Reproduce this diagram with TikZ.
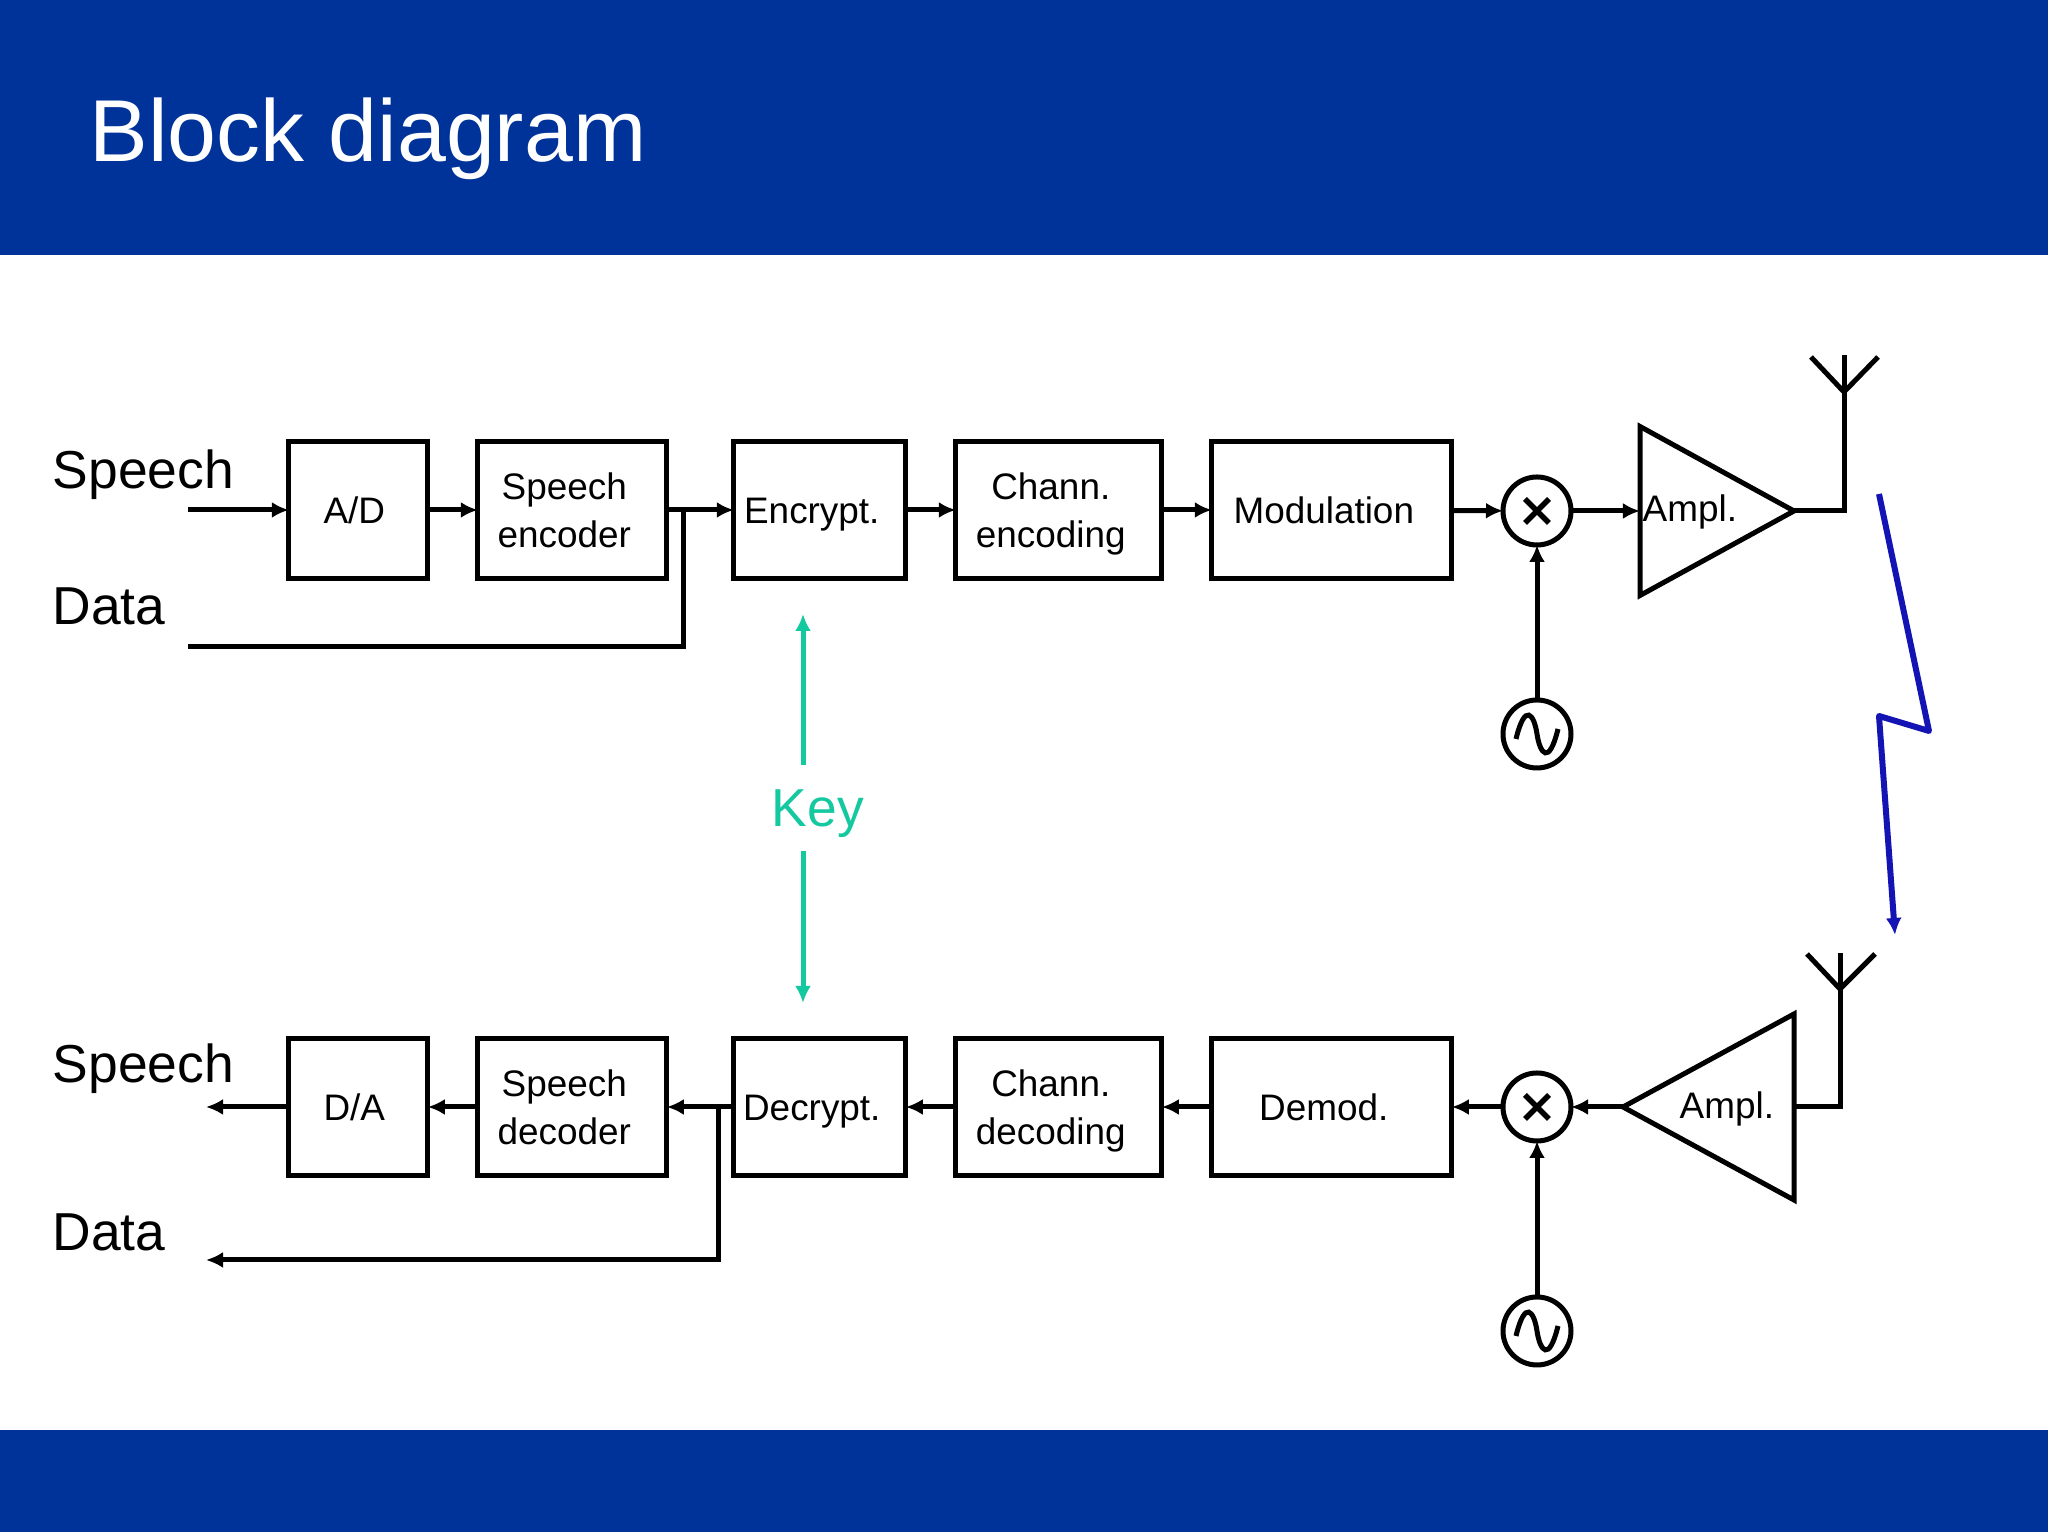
\documentclass[tikz,border=0pt]{standalone}
\usepackage{fontspec}
\setmainfont{Liberation Sans}
\usepackage{tikz}
\usetikzlibrary{arrows.meta, positioning, shapes.geometric}

\definecolor{barblue}{HTML}{003399}
\definecolor{keygreen}{HTML}{14C8A0}
\definecolor{linkblue}{HTML}{1414B4}

\newcommand{\pad}{\hspace*{0.16cm}\vphantom{g}\rule{0pt}{0.35cm}}
\newcommand{\padsmall}{\hspace*{0.08cm}\vphantom{g}\rule{0pt}{0.35cm}}

\begin{document}
\begin{tikzpicture}[
    box/.style={draw, rectangle, line width=0.05cm, inner sep=0pt, outer sep=0pt, align=center, minimum height=1.37cm, font=\fontsize{10.5}{13.7}\selectfont},
    arrow/.style={-{Latex[length=0.17cm,width=0.16cm]}, line width=0.05cm},
    wire/.style={line width=0.05cm},
    side/.style={anchor=base west, inner sep=0pt, font=\fontsize{15.2}{18}\selectfont},
    mixer/.style={draw, circle, line width=0.05cm, inner sep=0pt, outer sep=0pt, minimum size=0.68cm,
        path picture={\draw[line width=0.055cm, shift={(path picture bounding box.center)}] (-0.12,-0.12) -- (0.12,0.12) (-0.12,0.12) -- (0.12,-0.12);}},
    osc/.style={draw, circle, line width=0.05cm, inner sep=0pt, outer sep=0pt, minimum size=0.68cm,
        path picture={\draw[line width=0.05cm, shift={(path picture bounding box.center)}] (-0.21,-0.05) .. controls (-0.12,0.32) and (-0.03,0.2) .. (0,0) .. controls (0.03,-0.2) and (0.12,-0.32) .. (0.21,0.05);}},
    amp/.style={draw, isosceles triangle, isosceles triangle stretches, line width=0.05cm, inner sep=0pt, outer sep=0pt},
    lab/.style={inner sep=0pt, font=\fontsize{10.5}{13.7}\selectfont}
]
\useasboundingbox (0,0) rectangle (20.48,15.36);

% Bars
\fill[barblue] (0,12.81) rectangle (20.48,15.36);
\fill[barblue] (0,0.04) rectangle (20.48,1.06);
\node[anchor=base west, inner sep=0pt, text=white, font=\fontsize{25}{30}\selectfont] (title) at (0.89,13.74) {Block diagram};

% Transmit chain
\node[box, minimum width=1.39cm] (ad) at (3.583,10.26) {A/D\padsmall};
\node[box, minimum width=1.89cm, right=0.5cm of ad] (encoder) {Speech\pad\\encoder\pad};
\node[box, minimum width=1.72cm, right=0.67cm of encoder] (encrypt) {Encrypt.\pad};
\node[box, minimum width=2.06cm, right=0.5cm of encrypt] (chenc) {Chann.\pad\\encoding\pad};
\node[box, minimum width=2.40cm, right=0.5cm of chenc] (modul) {Modulation\pad};
\node[mixer] (mixA) at (15.37,10.25) {};
\node[osc] (oscA) at (15.37,8.02) {};
\node[amp, anchor=apex, minimum width=1.69cm, minimum height=1.54cm] (ampA) at (17.94,10.25) {};
\node[lab, anchor=west] (ampAtxt) at (16.42,10.24) {Ampl.};

% Receive chain
\node[box, minimum width=1.39cm] (da) at (3.583,4.29) {D/A\padsmall};
\node[box, minimum width=1.89cm, right=0.5cm of da] (decoder) {Speech\pad\\decoder\pad};
\node[box, minimum width=1.72cm, right=0.67cm of decoder] (decrypt) {Decrypt.\pad};
\node[box, minimum width=2.06cm, right=0.5cm of decrypt] (chdec) {Chann.\pad\\decoding\pad};
\node[box, minimum width=2.40cm, right=0.5cm of chdec] (demod) {Demod.\pad};
\node[mixer] (mixB) at (15.37,4.29) {};
\node[osc] (oscB) at (15.37,2.05) {};
\node[amp, anchor=apex, shape border rotate=180, minimum width=1.86cm, minimum height=1.71cm] (ampB) at (16.23,4.29) {};
\node[lab, anchor=west] (ampBtxt) at (16.79,4.27) {Ampl.};

% Side labels
\node[side] (speechA) at (0.52,10.47) {Speech};
\node[side] (dataA) at (0.52,9.11) {Data};
\node[side] (speechB) at (0.52,4.53) {Speech};
\node[side] (dataB) at (0.52,2.85) {Data};

% Free ends
\coordinate (inA) at (1.88,10.26);
\coordinate (inB) at (1.88,8.89);
\coordinate (tapA) at (6.83,10.26);
\coordinate (outA) at (2.06,4.29);
\coordinate (outB) at (2.06,2.76);
\coordinate (tapB) at (7.18,4.29);
\coordinate (antA) at (18.44,11.44);
\coordinate (antAtop) at (18.44,11.81);
\coordinate (antB) at (18.40,5.47);
\coordinate (antBtop) at (18.40,5.83);

% Arrows
\draw[arrow] (inA) -- (ad);
\draw[arrow] (ad) -- (encoder);
\draw[arrow] (encoder) -- (encrypt);
\draw[arrow] (encrypt) -- (chenc);
\draw[arrow] (chenc) -- (modul);
\draw[arrow] (modul) -- (mixA);
\draw[arrow] (mixA) -- (ampA.west |- mixA);
\draw[arrow] (oscA) -- (mixA);
\draw[wire] (inB) -| (tapA);
\draw[wire] (ampA.apex) -| (antAtop);
\draw[wire] (antA) -- ++(-0.33,0.35) (antA) -- ++(0.34,0.35);

\draw[wire] (ampB.east |- mixB) -| (antBtop);
\draw[wire] (antB) -- ++(-0.33,0.35) (antB) -- ++(0.35,0.35);
\draw[arrow] (ampB.apex) -- (mixB);
\draw[arrow] (oscB) -- (mixB);
\draw[arrow] (mixB) -- (demod);
\draw[arrow] (demod) -- (chdec);
\draw[arrow] (chdec) -- (decrypt);
\draw[arrow] (decrypt) -- (decoder);
\draw[arrow] (decoder) -- (da);
\draw[arrow] (da) -- (outA);
\draw[arrow] (tapB) |- (outB);

% Key
\node[inner sep=0pt, text=keygreen, font=\fontsize{15.2}{18}\selectfont] (key) at (8.18,7.22) {Key};
\coordinate (keyAa) at (8.03,7.71);
\coordinate (keyAb) at (8.03,9.22);
\coordinate (keyBa) at (8.03,6.85);
\coordinate (keyBb) at (8.03,5.33);
\draw[arrow, keygreen] (keyAa) -- (keyAb);
\draw[arrow, keygreen] (keyBa) -- (keyBb);

% Radio link
\coordinate (linkA) at (18.79,10.42);
\coordinate (linkB) at (19.29,8.05);
\coordinate (linkC) at (18.79,8.20);
\coordinate (linkD) at (18.95,6.01);
\draw[arrow, linkblue, line width=0.06cm, line join=round] (linkA) -- (linkB) -- (linkC) -- (linkD);

\end{tikzpicture}
\end{document}
